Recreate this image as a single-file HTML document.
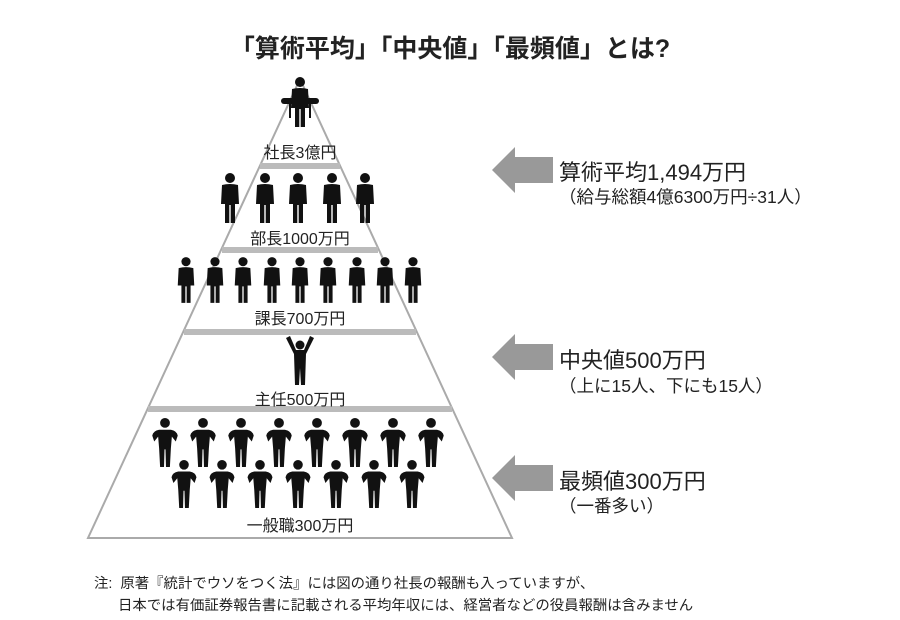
<!DOCTYPE html>
<html><head><meta charset="utf-8"><style>
body{margin:0;background:#fff;width:900px;height:620px;overflow:hidden;position:relative;font-family:"Liberation Sans","Noto Sans CJK JP",sans-serif;color:#222}
.t{position:absolute;white-space:nowrap}
</style></head><body>
<svg width="900" height="620" style="position:absolute;left:0;top:0">
<defs>
<symbol id="p" viewBox="0 0 24 50">
<circle cx="12" cy="5" r="5" fill="#111"/>
<path d="M4 12 Q12 10 20 12 L21 31 L17 31 L17 50 L12.7 50 L12.7 32 L11.3 32 L11.3 50 L7 50 L7 31 L3 31 Z" fill="#111"/>
</symbol>
<symbol id="h" viewBox="0 0 30 50">
<circle cx="15" cy="5" r="5" fill="#111"/>
<path d="M9 12 L21 12 Q27 13 28 18 L26 24 L22 19 L21 31 L20 50 L16 50 L15.5 32 L14.5 32 L14 50 L10 50 L9 31 L8 19 L4 24 L2 18 Q3 13 9 12 Z" fill="#111"/>
</symbol>
</defs>
<polygon points="300,79 88,538 512,538" fill="#fff" stroke="#aaa" stroke-width="2"/>
<rect x="260" y="163" width="80" height="6" fill="#bbb"/>
<rect x="222" y="247" width="156" height="6" fill="#bbb"/>
<rect x="184" y="329" width="232" height="6" fill="#bbb"/>
<rect x="148" y="406" width="304" height="6" fill="#bbb"/>
<rect x="281" y="98" width="38" height="6" rx="3" fill="#111"/>
<use href="#p" x="288" y="73" width="24" height="58"/>
<line x1="290" y1="104" x2="290" y2="118" stroke="#111" stroke-width="2"/>
<line x1="310" y1="104" x2="310" y2="118" stroke="#111" stroke-width="2"/>
<use href="#p" x="218" y="173" width="24" height="50"/><use href="#p" x="253" y="173" width="24" height="50"/><use href="#p" x="286" y="173" width="24" height="50"/><use href="#p" x="320" y="173" width="24" height="50"/><use href="#p" x="353" y="173" width="24" height="50"/>
<g>
<use href="#p" x="175" y="255" width="22" height="50"/><use href="#p" x="204" y="255" width="22" height="50"/><use href="#p" x="232" y="255" width="22" height="50"/><use href="#p" x="261" y="255" width="22" height="50"/><use href="#p" x="289" y="255" width="22" height="50"/><use href="#p" x="317" y="255" width="22" height="50"/><use href="#p" x="346" y="255" width="22" height="50"/><use href="#p" x="374" y="255" width="22" height="50"/><use href="#p" x="402" y="255" width="22" height="50"/>
</g>
<circle cx="300" cy="345" r="4.5" fill="#111"/>
<path d="M286 338 L290 336 L296 350 L304 350 L310 336 L314 338 L306 354 L305 385 L301 385 L300 368 L299 385 L295 385 L294 354 Z" fill="#111"/>
<use href="#h" x="150" y="418" width="30" height="49"/><use href="#h" x="188" y="418" width="30" height="49"/><use href="#h" x="226" y="418" width="30" height="49"/><use href="#h" x="264" y="418" width="30" height="49"/><use href="#h" x="302" y="418" width="30" height="49"/><use href="#h" x="340" y="418" width="30" height="49"/><use href="#h" x="378" y="418" width="30" height="49"/><use href="#h" x="416" y="418" width="30" height="49"/>
<use href="#h" x="169" y="460" width="30" height="48"/><use href="#h" x="207" y="460" width="30" height="48"/><use href="#h" x="245" y="460" width="30" height="48"/><use href="#h" x="283" y="460" width="30" height="48"/><use href="#h" x="321" y="460" width="30" height="48"/><use href="#h" x="359" y="460" width="30" height="48"/><use href="#h" x="397" y="460" width="30" height="48"/>
<polygon points="492,170 515,147 515,157 553,157 553,183 515,183 515,193" fill="#999"/>
<polygon points="492,357 515,334 515,344 553,344 553,370 515,370 515,380" fill="#999"/>
<polygon points="492,478 515,455 515,465 553,465 553,491 515,491 515,501" fill="#999"/>
</svg>
<div class="t" style="left:0;width:900px;text-align:center;top:29px;font-size:25px;font-weight:bold;">「算術平均」「中央値」「最頻値」とは?</div>
<div class="t" style="left:230px;width:140px;text-align:center;top:139px;font-size:16px">社長3億円</div>
<div class="t" style="left:220px;width:160px;text-align:center;top:225px;font-size:16px">部長1000万円</div>
<div class="t" style="left:220px;width:160px;text-align:center;top:305px;font-size:16px">課長700万円</div>
<div class="t" style="left:220px;width:160px;text-align:center;top:386px;font-size:16px">主任500万円</div>
<div class="t" style="left:220px;width:160px;text-align:center;top:512px;font-size:16px">一般職300万円</div>
<div class="t" style="left:559px;top:155px;font-size:22px">算術平均1,494万円</div>
<div class="t" style="left:559px;top:184px;font-size:17.5px">（給与総額4億6300万円÷31人）</div>
<div class="t" style="left:559px;top:343px;font-size:22px">中央値500万円</div>
<div class="t" style="left:559px;top:373px;font-size:17.5px">（上に15人、下にも15人）</div>
<div class="t" style="left:559px;top:464px;font-size:22px">最頻値300万円</div>
<div class="t" style="left:559px;top:493px;font-size:17.5px">（一番多い）</div>
<div class="t" style="left:94px;top:572px;font-size:14.4px">注:&nbsp; 原著『統計でウソをつく法』には図の通り社長の報酬も入っていますが、</div>
<div class="t" style="left:118px;top:594px;font-size:14.4px">日本では有価証券報告書に記載される平均年収には、経営者などの役員報酬は含みません</div>
</body></html>
